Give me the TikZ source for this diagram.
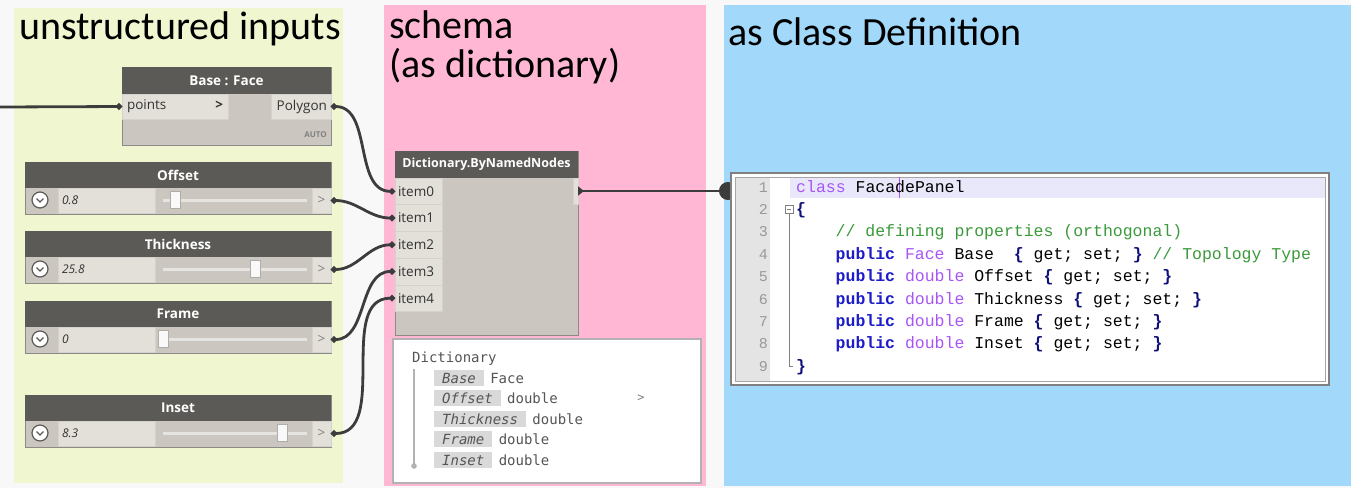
\documentclass[tikz,border=0pt]{standalone}
\usepackage{fontspec}
\setmainfont{Carlito}
\newfontfamily\uifont{Open Sans}
\newfontfamily\codefont{Liberation Mono}
\newfontfamily\prevfont{DejaVu Sans Mono}
\usetikzlibrary{positioning,arrows.meta}

\definecolor{pagecol}{HTML}{F8F8F8}
\definecolor{greenpanel}{HTML}{F0F7D0}
\definecolor{pinkpanel}{HTML}{FFB7D3}
\definecolor{bluepanel}{HTML}{A2D8FA}
\definecolor{headcol}{HTML}{5B5A56}
\definecolor{bodycol}{HTML}{CBC7C0}
\definecolor{portfill}{HTML}{E3E0DA}
\definecolor{edgecol}{HTML}{8C8A85}
\definecolor{textcol}{HTML}{333333}
\definecolor{wirecol}{HTML}{3C3C3C}
\definecolor{trackcol}{HTML}{E6E4E0}
\definecolor{keyfill}{HTML}{D9D9D9}
\definecolor{prevtext}{HTML}{555555}
\definecolor{gutter}{HTML}{E4E4E4}
\definecolor{hiline}{HTML}{E8E8FA}
\definecolor{kwcol}{HTML}{1C1CC8}
\definecolor{typecol}{HTML}{A855F7}
\definecolor{cmtcol}{HTML}{3A9A3A}
\definecolor{bracecol}{HTML}{10107A}
\definecolor{numcol}{HTML}{999999}

\tikzset{
  nodebox/.style={draw=edgecol, fill=bodycol, line width=0.8pt, inner sep=0, outer sep=0, anchor=north west},
  nodehead/.style={fill=headcol, text=white, font=\uifont\bfseries\fontsize{13.5}{16}\selectfont, inner sep=0, outer sep=0, anchor=north west},
  port/.style={fill=portfill, draw=bodycol!80!white, line width=0.5pt, text=textcol, font=\uifont\fontsize{13.5}{15}\selectfont, inner sep=0, outer sep=0, anchor=north west, minimum height=25},
  wire/.style={draw=wirecol, line width=2.8pt, {Circle[length=6pt]}-{Circle[length=6pt]}},
  paneltitle/.style={font=\fontsize{40}{42}\selectfont, text=black, inner sep=0, anchor=base west},
  btn/.style={circle, draw=headcol, fill=white, line width=1.2pt, minimum size=16, inner sep=0},
  thumbbox/.style={draw=edgecol!70!white, fill=white!95!gray, line width=0.5pt, minimum width=10, minimum height=17, inner sep=0},
  keybox/.style={fill=keyfill, text=prevtext, font=\prevfont\itshape\fontsize{14}{16}\selectfont, inner xsep=8, inner ysep=0, minimum height=16, anchor=west},
  typetext/.style={text=prevtext, font=\prevfont\fontsize{14}{16}\selectfont, inner sep=0},
  lineno/.style={text=numcol, font=\codefont\fontsize{15}{17}\selectfont, inner sep=0, anchor=base east},
  codeline/.style={font=\codefont\fontsize{16.5}{19}\selectfont, text=black, inner sep=0, anchor=base west}
}

\begin{document}
\begin{tikzpicture}[x=1pt,y=-1pt]
\useasboundingbox (0,0) rectangle (1351,488);
\fill[pagecol] (0,0) rectangle (1351,488);

% Panels
\fill[greenpanel] (14,8) rectangle (343,483);
\fill[pinkpanel] (384,5) rectangle (706,486);
\fill[bluepanel] (724,5) rectangle (1351,486);
\node[paneltitle] (ttl-inputs) at (19,39) {unstructured inputs};
\node[paneltitle] (ttl-schema) at (389,38) {schema};
\node[paneltitle] (ttl-asdict) at (389,77) {(as dictionary)};
\node[paneltitle] (ttl-class) at (728,45) {as Class Definition};

% Base : Face node
\node[nodebox, minimum width=209, minimum height=78] (baseface) at (122,67) {};
\node[nodehead, minimum width=209, minimum height=27] (baseface-head) at (122,67) {Base : Face};
\node[port, text width=96, inner xsep=5, align=left] (points) at (122,94) {points\hfill\textbf{>}};
\node[port, anchor=north east, text width=52, inner xsep=4, align=right] (polygon) at (331,94) {Polygon};
\node[font=\uifont\bfseries\fontsize{8}{9}\selectfont, text=gray, anchor=south east, inner sep=0] (baseface-auto) at (327,138) {AUTO};

% Sliders
\foreach \nm/\sval/\ytop/\thumb in {Offset/0.8/162/175, Thickness/25.8/231/255, Frame/0/301/163, Inset/8.3/395/282}{
  \node[nodebox, minimum width=306, minimum height=52] (\nm) at (25,\ytop) {};
  \node[nodehead, minimum width=306, minimum height=26] (\nm-head) at (25,\ytop) {\nm};
  \node[btn] (\nm-btn) at (40,\ytop+38) {};
  \draw[headcol, line width=1.3pt] (36.5,\ytop+36.5) -- (40,\ytop+40) -- (43.5,\ytop+36.5);
  \node[port, text width=89, inner xsep=4, align=left, font=\uifont\itshape\fontsize{12}{14}\selectfont] (\nm-val) at (58,\ytop+26) {\sval};
  \draw[trackcol, line width=3pt] (163,\ytop+38) -- (307,\ytop+38);
  \node[thumbbox] (\nm-thumb) at (\thumb,\ytop+38) {};
  \node[port, anchor=north east, minimum width=19, text=gray] (\nm-out) at (331,\ytop+26) {>};
}

% Dictionary.ByNamedNodes
\node[nodebox, minimum width=183, minimum height=184] (dict) at (395,151) {};
\node[nodehead, minimum width=183, minimum height=27, font=\uifont\bfseries\fontsize{12.5}{15}\selectfont] (dict-head) at (395,151) {Dictionary.ByNamedNodes};
\foreach \i in {0,...,4}
  \node[port, minimum height=26.7, text width=41, inner xsep=3, align=left] (item\i) at (395,178+26.7*\i) {item\i};
\node[port, anchor=north east, minimum width=5, minimum height=26] (dict-out) at (578,178) {};

% Wires into the dictionary
\coordinate (feed) at (0,107);
\draw[wire, -{Circle[length=6pt]}] (feed) -- (points.west);
\draw[wire] (polygon.east) to[out=0,in=180] (item0.west);
\draw[wire] (Offset-out.east) to[out=0,in=180] (item1.west);
\draw[wire] (Thickness-out.east) to[out=0,in=180] (item2.west);
\draw[wire] (Frame-out.east) to[out=0,in=180] (item3.west);
\draw[wire] (Inset-out.east) to[out=0,in=180] (item4.west);

% Dictionary preview
\node[draw=gray!60, line width=1.5pt, fill=white, minimum width=308, minimum height=144, inner sep=0, anchor=north west] (preview) at (392,338) {};
\node[typetext, anchor=base west] (prev-title) at (412,362) {Dictionary};
\draw[gray!60, line width=1.5pt] (414,369) -- (414,466);
\fill[gray!60] (414,466) circle (2.8);
\foreach \k/\t/\y in {Base/Face/378, Offset/double/398, Thickness/double/419, Frame/double/439, Inset/double/460}{
  \node[keybox] (key-\k) at (434,\y) {\k};
  \node[typetext, right=6pt of key-\k] (type-\k) {\t};
}
\node[text=gray, font=\prevfont\fontsize{12}{14}\selectfont, inner sep=0] (prev-more) at (641,398) {>};

% Connection to the class
\coordinate (editor-in) at (728,191);
\draw[wire, {Triangle[reversed,length=6pt,width=9pt]}-{Circle[length=18pt]}, shorten >=-9pt] (dict-out.east) -- (editor-in);

% Code editor
\node[draw=gray, line width=1.5pt, fill=white, minimum width=598, minimum height=212, inner sep=0, outer sep=0, anchor=north west] (editor) at (731,173) {};
\fill[gutter] (735,177) rectangle (770,381);
\fill[hiline] (790,177) rectangle (1325,198);
\draw[gray!70, line width=0.8pt] (735,177) rectangle (1325,381);
\draw[typecol, line width=0.8pt] (899,177) -- (899,198);
\draw[gray, line width=0.6pt] (785,205) rectangle (793,213);
\draw[gray, line width=0.6pt] (787,209) -- (791,209);
\draw[gray, line width=0.6pt] (789,213) -- (789,366) -- (793,366);
\foreach \n in {1,...,9}
  \node[lineno] (ln\n) at (768,169.6+22.4*\n) {\n};
\node[codeline] (code1) at (796,192) {\textcolor{typecol}{class} FacadePanel};
\node[codeline] (code2) at (796,214.4) {\textcolor{bracecol}{\bfseries\{}};
\node[codeline] (code3) at (835.5,236.8) {\textcolor{cmtcol}{// defining properties (orthogonal)}};
\node[codeline] (code4) at (835.5,259.2) {\textcolor{kwcol}{\bfseries public} \textcolor{typecol}{Face} Base\ \ \textcolor{bracecol}{\bfseries\{} get; set; \textcolor{bracecol}{\bfseries\}} \textcolor{cmtcol}{// Topology Type}};
\node[codeline] (code5) at (835.5,281.6) {\textcolor{kwcol}{\bfseries public} \textcolor{typecol}{double} Offset \textcolor{bracecol}{\bfseries\{} get; set; \textcolor{bracecol}{\bfseries\}}};
\node[codeline] (code6) at (835.5,304) {\textcolor{kwcol}{\bfseries public} \textcolor{typecol}{double} Thickness \textcolor{bracecol}{\bfseries\{} get; set; \textcolor{bracecol}{\bfseries\}}};
\node[codeline] (code7) at (835.5,326.4) {\textcolor{kwcol}{\bfseries public} \textcolor{typecol}{double} Frame \textcolor{bracecol}{\bfseries\{} get; set; \textcolor{bracecol}{\bfseries\}}};
\node[codeline] (code8) at (835.5,348.8) {\textcolor{kwcol}{\bfseries public} \textcolor{typecol}{double} Inset \textcolor{bracecol}{\bfseries\{} get; set; \textcolor{bracecol}{\bfseries\}}};
\node[codeline] (code9) at (796,371.2) {\textcolor{bracecol}{\bfseries\}}};

\end{tikzpicture}
\end{document}
